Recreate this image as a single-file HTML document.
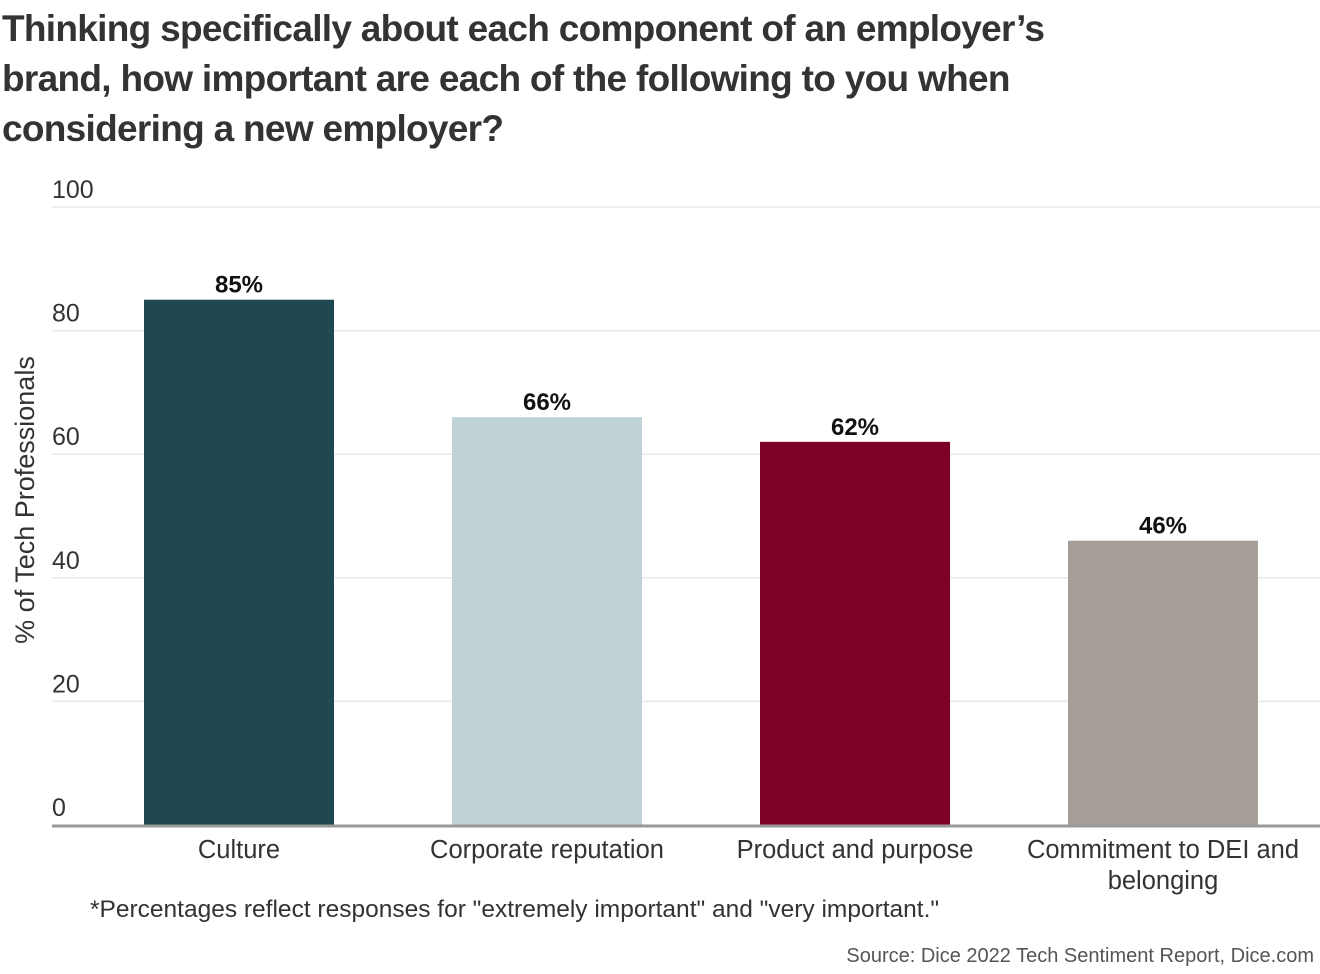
<!DOCTYPE html>
<html><head><meta charset="utf-8">
<style>
body{margin:0;width:1320px;height:974px;background:#fff;font-family:"Liberation Sans",sans-serif;overflow:hidden}
#title{position:absolute;left:2px;top:4px;width:1316px;white-space:nowrap;font-size:37px;font-weight:bold;line-height:50px;color:#333;letter-spacing:-0.7px}
svg{position:absolute;left:0;top:0}
</style></head><body>
<div id="title">Thinking specifically about each component of an employer’s<br>brand, how important are each of the following to you when<br>considering a new employer?</div>
<svg id="chart" width="1320" height="974"></svg>
<script>
const categories=[["Culture"],["Corporate reputation"],["Product and purpose"],["Commitment to DEI and","belonging"]];
const values=[85,66,62,46];
const colors=["#1f4850","#bfd3d6","#7d0026","#a59f98"];
const ticks=[0,20,40,60,80,100];
const svg=document.getElementById('chart');
const NS="http://www.w3.org/2000/svg";
const x0=52,x1=1320,yBase=825,yTop=207;
const y=v=>yBase-(v/100)*(yBase-yTop);
const step=308;
const bw=190;
const cx=i=>239+step*i;
function mk(t,a,txt){const e=document.createElementNS(NS,t);for(const k in a)e.setAttribute(k,a[k]);if(txt!==undefined)e.textContent=txt;svg.appendChild(e);return e;}
ticks.forEach(t=>{
  if(t>0){const g=mk('line',{x1:x0,x2:x1,y1:y(t),y2:y(t),stroke:'#e8e8e8','stroke-width':1.5});
  
  }
  const l=mk('text',{x:x0,y:y(t)-9,'font-size':25,fill:'#333'},String(t));
  
  
});
values.forEach((v,i)=>{
  const r=mk('rect',{x:cx(i)-bw/2,y:y(v),width:bw,height:yBase-y(v),fill:colors[i]});
  
  
  const t=mk('text',{x:cx(i),y:y(v)-7,'text-anchor':'middle','font-size':24,'font-weight':'bold',fill:'#111'},v+'%');
  
  
  categories[i].forEach((line,j)=>{
    const c=mk('text',{x:cx(i),y:858+j*31,'text-anchor':'middle','font-size':25.5,fill:'#333'},line);
    
    
  });
});
const ax=mk('line',{x1:x0,x2:x1,y1:yBase+1,y2:yBase+1,stroke:'#999','stroke-width':3});


const yt=mk('text',{x:0,y:0,transform:'translate(34,500) rotate(-90)','text-anchor':'middle','font-size':27,fill:'#333'},'% of Tech Professionals');


const fn=mk('text',{x:90,y:917,'font-size':24.5,fill:'#333'},'*Percentages reflect responses for "extremely important" and "very important."');


const src=mk('text',{x:1314,y:962,'text-anchor':'end','font-size':20,fill:'#555'},'Source: Dice 2022 Tech Sentiment Report, Dice.com');


</script>
</body></html>
